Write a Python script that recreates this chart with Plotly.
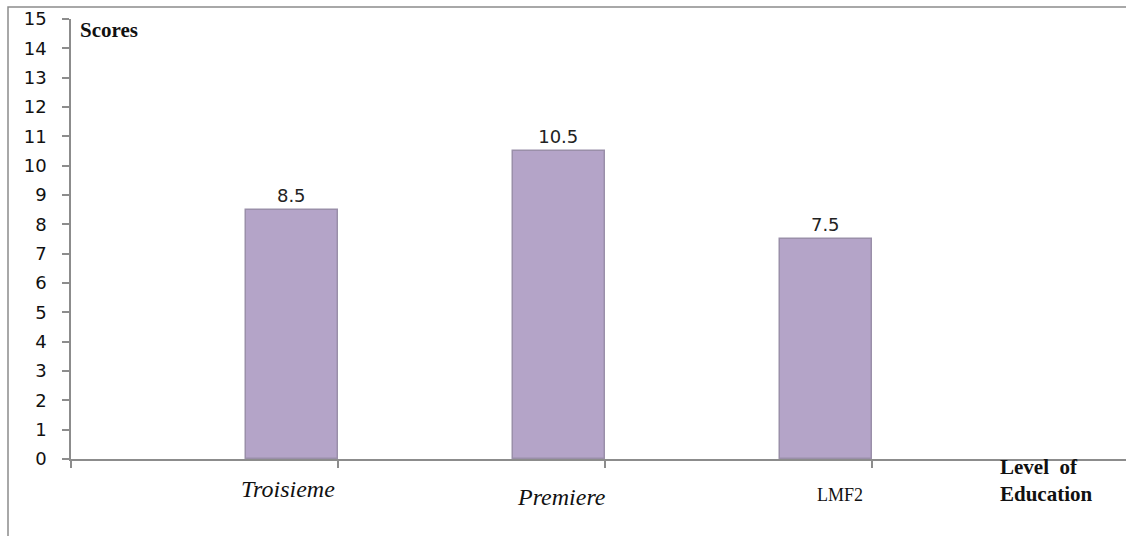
import plotly.graph_objects as go

categories = ["Troisieme", "Premiere", "LMF2"]
scores = [8.5, 10.5, 7.5]
value_labels = ["8.5", "10.5", "7.5"]
y_ticks = list(range(0, 16))

W, H = 1126, 536
ML, MR, MT, MB = 71, 0, 19, 77
plot_w = W - ML - MR
plot_h = H - MT - MB
cat_px = 267.0
x_max = -0.5 + plot_w / cat_px

fig = go.Figure()
fig.add_trace(go.Bar(
    x=categories, y=scores,
    width=0.345, offset=0.155,
    marker=dict(color="#B4A4C8", line=dict(color="#9A8FA9", width=1.5)),
    text=value_labels, textposition="outside",
    textfont=dict(family="DejaVu Sans", size=18, color="#222"),
    cliponaxis=False,
))

fig.update_layout(
    width=W, height=H,
    margin=dict(l=ML, r=MR, t=MT, b=MB),
    paper_bgcolor="white", plot_bgcolor="white",
    showlegend=False,
    bargap=0,
)
fig.update_xaxes(
    type="category", range=[-0.5, x_max],
    showticklabels=False, tickson="boundaries",
    ticks="outside", ticklen=7, tickcolor="#8C8C8C", tickwidth=1.5,
    showline=True, linecolor="#8C8C8C", linewidth=1.5,
    showgrid=False, zeroline=False,
)
fig.update_yaxes(
    range=[0, 15], tickvals=y_ticks,
    ticks="outside", ticklen=7, tickcolor="#8C8C8C", tickwidth=1.5,
    showline=True, linecolor="#8C8C8C", linewidth=1.5,
    showgrid=False, zeroline=False,
    tickfont=dict(family="DejaVu Sans", size=18, color="#111"),
    ticklabelstandoff=12,
)

# outer frame (left and top visible)
fig.add_shape(type="rect", xref="paper", yref="paper",
              x0=(8 - ML) / plot_w, x1=1.2,
              y0=-0.5, y1=(plot_h + MT - 7) / plot_h,
              line=dict(color="#8C8C8C", width=1.5), layer="below")

label_shift = [83, 90, 101]
label_style = [
    dict(family="Liberation Serif", size=24, color="#111", style="italic"),
    dict(family="Liberation Serif", size=24, color="#111", style="italic"),
    dict(family="Liberation Serif", size=18, color="#111"),
]
label_y = [489, 497, 495]
for c, s, f, yy in zip(categories, label_shift, label_style, label_y):
    fig.add_annotation(x=c, xref="x", yref="paper",
                       y=-(yy - MT - plot_h) / plot_h, text=c, showarrow=False,
                       xshift=s, font=f, xanchor="center", yanchor="middle")

fig.add_annotation(text="<b>Scores</b>", xref="paper", yref="paper",
                   x=(78 - ML) / plot_w, y=(plot_h + MT - 30) / plot_h,
                   xanchor="left", yanchor="middle", showarrow=False,
                   font=dict(family="Liberation Serif", size=21, color="#111"))
fig.add_annotation(text="<b>Level  of<br>Education</b>", xref="paper", yref="paper",
                   x=(998 - ML) / plot_w, y=(plot_h + MT - 480) / plot_h,
                   xanchor="left", yanchor="middle", showarrow=False, align="left",
                   font=dict(family="Liberation Serif", size=21, color="#111"))

fig.write_html("out.html")
